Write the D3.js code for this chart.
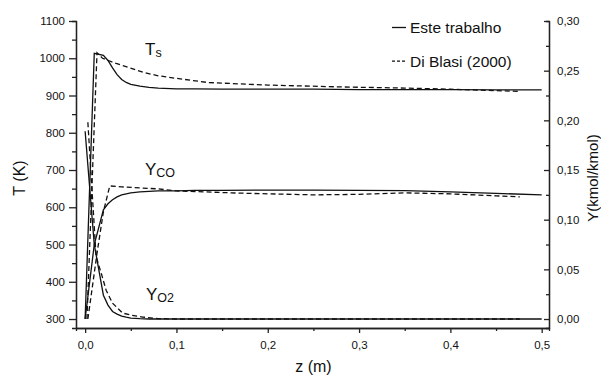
<!DOCTYPE html>
<html>
<head>
<meta charset="utf-8">
<script src="https://cdn.jsdelivr.net/npm/d3@7"></script>
<style>
  body { margin: 0; background: #fff; }
  svg text { font-family: "Liberation Sans", Arial, sans-serif; fill: #111; }
  .axis path, .axis line { stroke: #222; stroke-width: 1.3; }
  .axis text { font-size: 11.5px; font-family: "Liberation Sans", Arial, sans-serif; }
</style>
</head>
<body>
<div id="chart"></div>
<script>
// Este trabalho (solid)
var zEste   = [0, 0.01, 0.02, 0.025, 0.03, 0.035, 0.04, 0.045, 0.05, 0.06, 0.07, 0.08, 0.1, 0.12, 0.15, 0.2, 0.25, 0.3, 0.35, 0.4, 0.45, 0.5];
var tsEste  = [300, 1013, 1008, 994, 974, 956, 943, 935, 930, 925, 922, 920, 918, 918, 917, 917, 917, 916, 916, 916, 915, 915];
var ycoEste = [0, 0.075, 0.110, 0.116, 0.120, 0.123, 0.125, 0.126, 0.127, 0.128, 0.1285, 0.129, 0.129, 0.1295, 0.1295, 0.1298, 0.1298, 0.1296, 0.1292, 0.128, 0.1265, 0.125];
var yo2Este = [0.189, 0.075, 0.024, 0.014, 0.0076, 0.005, 0.003, 0.0018, 0.001, 0.0003, 0, 0, 0, 0, 0, 0, 0, 0, 0, 0, 0, 0];

// Di Blasi (2000) (dashed)
var zTsDi  = [0.002, 0.013, 0.019, 0.034, 0.054, 0.064, 0.08, 0.1, 0.134, 0.18, 0.2, 0.28, 0.35, 0.4, 0.45, 0.476];
var tsDi   = [300, 1015, 1000, 986, 970, 962, 953, 946, 935, 930, 928, 923, 920, 917, 913, 911];
var zCoDi  = [0.003, 0.013, 0.02, 0.027, 0.04, 0.06, 0.08, 0.1, 0.13, 0.16, 0.2, 0.25, 0.3, 0.35, 0.4, 0.45, 0.476];
var ycoDi  = [0, 0.066, 0.108, 0.134, 0.133, 0.132, 0.131, 0.129, 0.128, 0.127, 0.126, 0.125, 0.1255, 0.127, 0.126, 0.124, 0.123];
var zO2Di  = [0.003, 0.012, 0.0175, 0.023, 0.03, 0.041, 0.05, 0.063, 0.08, 0.1, 0.2, 0.3, 0.4, 0.476];
var yo2Di  = [0.198, 0.063, 0.0465, 0.029, 0.016, 0.006, 0.004, 0.002, 0.0005, 0, 0, 0, 0, 0];

var xTicks = [0, 0.1, 0.2, 0.3, 0.4, 0.5];
var tTicks = [300, 400, 500, 600, 700, 800, 900, 1000, 1100];
var yTicks = [0, 0.05, 0.10, 0.15, 0.20, 0.25, 0.30];
var legendNames = ["Este trabalho", "Di Blasi (2000)"];

var svgWidth = 601;
var svgHeight = 376;
var margin = { top: 21, right: 52, bottom: 48, left: 76 };
var width = svgWidth - margin.left - margin.right;
var height = svgHeight - margin.top - margin.bottom;

var svg = d3.select("#chart")
  .append("svg")
  .attr("width", svgWidth)
  .attr("height", svgHeight);

var chart = svg.append("g")
  .attr("transform", `translate(${margin.left}, ${margin.top})`);

var x = d3.scaleLinear().domain([-0.01, 0.508]).range([0, width]);
var yT = d3.scaleLinear().domain([275.9, 1100]).range([height, 0]);
var yY = d3.scaleLinear().domain([(275.9 - 300) * 0.3 / 800, 0.30]).range([height, 0]);

var comma = d => d3.format(".1f")(d).replace(".", ",");
var comma2 = d => d3.format(".2f")(d).replace(".", ",");

// minor ticks first
chart.append("g").attr("class", "axis")
  .attr("transform", `translate(0, ${height})`)
  .call(d3.axisBottom(x).tickValues([0.05, 0.15, 0.25, 0.35, 0.45]).tickSize(3).tickFormat(""));
chart.append("g").attr("class", "axis")
  .call(d3.axisLeft(yT).tickValues(d3.range(350, 1100, 100)).tickSize(4).tickFormat(""));
chart.append("g").attr("class", "axis")
  .attr("transform", `translate(${width}, 0)`)
  .call(d3.axisRight(yY).tickValues([0.025, 0.075, 0.125, 0.175, 0.225, 0.275]).tickSize(-3).tickFormat(""));

// major axes
chart.append("g").attr("class", "axis")
  .attr("transform", `translate(0, ${height})`)
  .call(d3.axisBottom(x).tickValues(xTicks).tickSize(5).tickSizeOuter(0).tickPadding(8).tickFormat(comma));
chart.append("g").attr("class", "axis")
  .call(d3.axisLeft(yT).tickValues(tTicks).tickSize(7).tickSizeOuter(0).tickPadding(4).tickFormat(d3.format("d")));
chart.append("g").attr("class", "axis")
  .attr("transform", `translate(${width}, 0)`)
  .call(d3.axisRight(yY).tickValues(yTicks).tickSize(-5).tickSizeOuter(0).tickPadding(8).tickFormat(comma2));

// curves
function drawLine(zs, vs, scale, dashed) {
  var pts = zs.map((z, i) => [z, vs[i]]);
  chart.append("path")
    .datum(pts)
    .attr("fill", "none")
    .attr("stroke", "#111")
    .attr("stroke-width", 1.3)
    .attr("stroke-dasharray", dashed ? "5,3" : null)
    .attr("d", d3.line().x(d => x(d[0])).y(d => scale(d[1])));
}
drawLine(zEste, tsEste, yT, false);
drawLine(zEste, ycoEste, yY, false);
drawLine(zEste, yo2Este, yY, false);
drawLine(zTsDi, tsDi, yT, true);
drawLine(zCoDi, ycoDi, yY, true);
drawLine(zO2Di, yo2Di, yY, true);

// curve labels
function curveLabel(px, py, main, sub) {
  var t = svg.append("text").attr("x", px).attr("y", py).style("font-size", "17px");
  t.append("tspan").text(main);
  t.append("tspan").attr("dy", 1.5).style("font-size", "12.5px").text(sub);
}
curveLabel(145, 55, "T", "s");
curveLabel(145, 175, "Y", "CO");
curveLabel(146, 300, "Y", "O2");

// legend
var legend = svg.append("g");
legendNames.forEach(function(name, i) {
  var by = 33 + i * 33.7;
  legend.append("line")
    .attr("x1", 392).attr("x2", 406)
    .attr("y1", by - 5.5).attr("y2", by - 5.5)
    .attr("stroke", "#111").attr("stroke-width", 1.3)
    .attr("stroke-dasharray", i === 1 ? "3,2" : null);
  legend.append("text")
    .attr("x", 410).attr("y", by)
    .style("font-size", "15.5px")
    .text(name);
});

// axis titles
svg.append("text")
  .attr("x", margin.left + x(0.25)).attr("y", 372)
  .attr("text-anchor", "middle")
  .style("font-size", "16px")
  .text("z (m)");

svg.append("text")
  .attr("transform", "translate(25, 178) rotate(-90)")
  .attr("text-anchor", "middle")
  .style("font-size", "16px")
  .text("T (K)");

svg.append("text")
  .attr("transform", "translate(598, 178) rotate(-90)")
  .attr("text-anchor", "middle")
  .style("font-size", "15px")
  .text("Y(kmol/kmol)");
</script>
</body>
</html>
